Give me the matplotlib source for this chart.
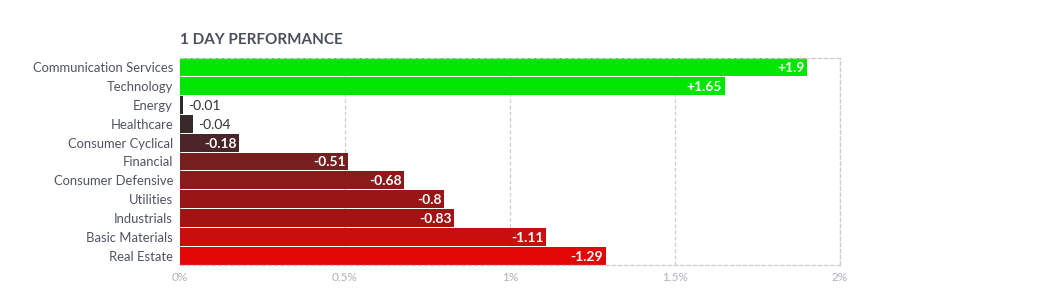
import matplotlib.pyplot as plt

plt.rcParams['font.family'] = ['Lato', 'DejaVu Sans']

sectors = ['Communication Services', 'Technology', 'Energy', 'Healthcare',
           'Consumer Cyclical', 'Financial', 'Consumer Defensive', 'Utilities',
           'Industrials', 'Basic Materials', 'Real Estate']
changes = [1.9, 1.65, -0.01, -0.04, -0.18, -0.51, -0.68, -0.8, -0.83, -1.11, -1.29]
colors = ['#00e600', '#00e600', '#2a2a2a', '#372a2a', '#4a2426', '#761f1f',
          '#8c1a1a', '#9a1616', '#a11414', '#c80e0e', '#e20606']
xticks = [0, 0.5, 1, 1.5, 2]
xticklabels = ['0%', '0.5%', '1%', '1.5%', '2%']

fig = plt.figure(figsize=(10.44, 2.89), dpi=100)
ax = fig.add_axes([180/1044, 1-265/289, 660/1044, 207/289])

ypos = list(range(len(sectors)))
vals = [abs(v) for v in changes]
ax.barh(ypos, vals, height=0.95, color=colors, zorder=2)
ax.set_ylim(len(sectors)-0.5, -0.5)
ax.set_xlim(0, 2)

for y, v, c in zip(ypos, vals, changes):
    txt = ('+' if c > 0 else '') + f'{c:g}'
    if v >= 0.1:
        ax.text(v - 0.008, y + 0.05, txt, ha='right', va='center', color='white',
                fontsize=10, fontweight='bold', zorder=3)
    else:
        ax.text(v + 0.015, y + 0.05, txt, ha='left', va='center', color='#333333',
                fontsize=10, zorder=3)

ax.set_yticks(ypos)
ax.set_yticklabels(sectors, fontsize=9.4, color='#4f5462')
ax.set_xticks(xticks)
ax.set_xticklabels(xticklabels, fontsize=8.5, color='#b0b0b8')
ax.tick_params(length=0)
ax.tick_params(axis='y', pad=5)
ax.tick_params(axis='x', pad=5)

ax.grid(axis='x', color='#cccccc', linestyle=(0, (3, 2)), linewidth=0.9, zorder=0)
for s in ['top', 'right', 'bottom']:
    ax.spines[s].set_color('#cccccc')
    ax.spines[s].set_linestyle((0, (3, 2)))
    ax.spines[s].set_linewidth(0.9)
ax.spines['left'].set_visible(False)

fig.text(180/1044, 1-40/289, '1 DAY PERFORMANCE', fontsize=11, fontweight='bold',
         color='#4a4f5c', va='center', ha='left')

fig.savefig('out.png', dpi=100)
